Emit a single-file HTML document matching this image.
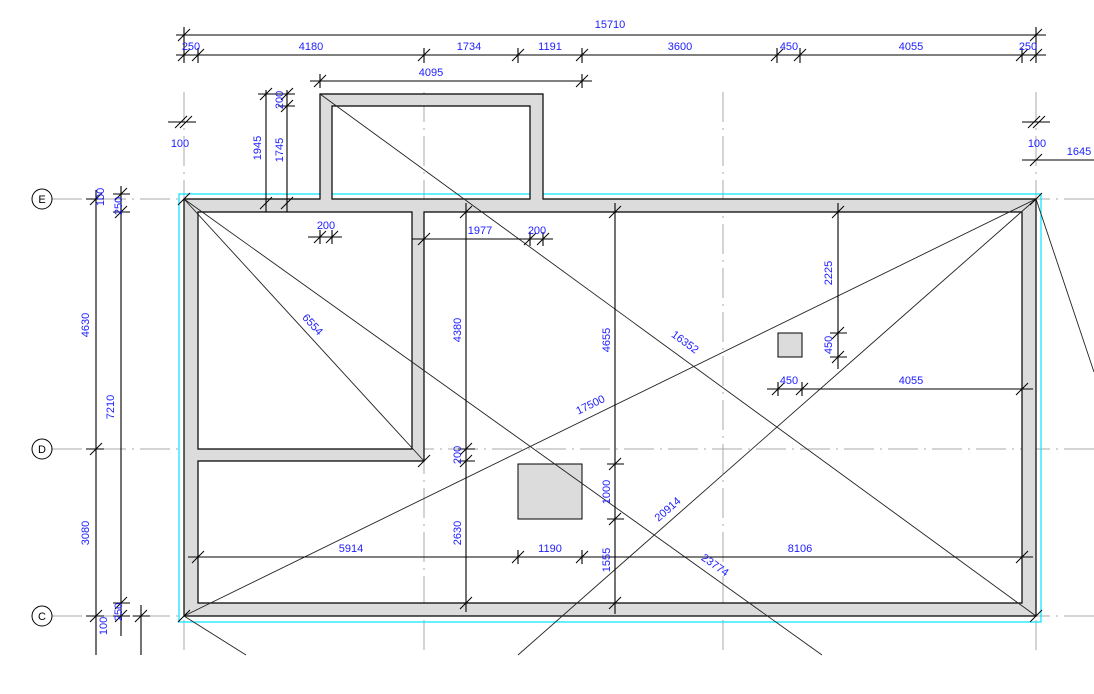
<!DOCTYPE html>
<html><head><meta charset="utf-8"><style>
html,body{margin:0;padding:0;background:#fff}
svg{display:block}
text{font-family:"Liberation Sans",sans-serif;font-size:11px;fill:#2020ff}
</style></head><body>
<svg width="1094" height="694" viewBox="0 0 1094 694" xmlns="http://www.w3.org/2000/svg">
<defs>
<g id="t"><line x1="-6" y1="6" x2="6" y2="-6" stroke="#000" stroke-width="1"/></g>
</defs>
<!-- grid lines -->
<g stroke="#aaa" stroke-width="1" stroke-dasharray="30,6,2,6" fill="none">
<line x1="52" y1="199" x2="1094" y2="199"/>
<line x1="52" y1="449" x2="1094" y2="449"/>
<line x1="52" y1="616" x2="1094" y2="616"/>
<line x1="184" y1="92" x2="184" y2="655"/>
<line x1="424" y1="92" x2="424" y2="655"/>
<line x1="723" y1="92" x2="723" y2="655"/>
<line x1="1036" y1="92" x2="1036" y2="655"/>
</g>
<!-- grid circles -->
<g fill="#fff" stroke="#000">
<circle cx="42" cy="199" r="10"/><circle cx="42" cy="449" r="10"/><circle cx="42" cy="616" r="10"/>
</g>
<g style="font-size:11px;fill:#000" text-anchor="middle">
<text x="42" y="203" style="fill:#000">E</text><text x="42" y="453" style="fill:#000">D</text><text x="42" y="620" style="fill:#000">C</text>
</g>
<!-- cyan -->
<rect x="179" y="194" width="862" height="428" fill="none" stroke="#00e5ff" stroke-width="1.2"/>
<!-- walls -->
<path d="M184,199 H320 V94 H543 V199 H1036 V616 H184 Z M198,212 V449 H412 V212 Z M198,461 V603 H1022 V212 H424 V461 Z M332,106 V199 H530 V106 Z" fill="#dcdcdc" fill-rule="evenodd" stroke="#000" stroke-width="1.2"/>
<rect x="778" y="333" width="24" height="24" fill="#dcdcdc" stroke="#000"/>
<rect x="518" y="464" width="64" height="55" fill="#dcdcdc" stroke="#000"/>
<!-- diagonals -->
<g stroke="#222" stroke-width="0.9">
<line x1="184" y1="199" x2="424" y2="461"/>
<line x1="184" y1="199" x2="822" y2="655"/>
<line x1="320" y1="94" x2="1036" y2="616"/>
<line x1="184" y1="616" x2="1036" y2="199"/>
<line x1="518" y1="655" x2="1036" y2="199"/>
<line x1="1036" y1="199" x2="1094" y2="372"/>
<line x1="184" y1="616" x2="246" y2="655"/>
</g>
<!-- dimension lines -->
<g stroke="#000" stroke-width="1.1" fill="none">
<line x1="176" y1="35" x2="1046" y2="35"/>
<line x1="176" y1="55" x2="1046" y2="55"/>
<line x1="184" y1="27" x2="184" y2="63"/><line x1="1036" y1="27" x2="1036" y2="63"/>
<line x1="198" y1="48" x2="198" y2="63"/><line x1="424" y1="48" x2="424" y2="63"/><line x1="518" y1="48" x2="518" y2="63"/><line x1="582" y1="48" x2="582" y2="63"/><line x1="777" y1="48" x2="777" y2="63"/><line x1="800" y1="48" x2="800" y2="63"/><line x1="1022" y1="48" x2="1022" y2="63"/>
<line x1="310" y1="81" x2="592" y2="81"/><line x1="320" y1="74" x2="320" y2="88"/><line x1="582" y1="74" x2="582" y2="88"/>
<line x1="266" y1="90" x2="266" y2="212"/><line x1="287" y1="90" x2="287" y2="212"/>
<line x1="258" y1="94" x2="295" y2="94"/><line x1="278" y1="106" x2="295" y2="106"/>
<line x1="168" y1="122" x2="196" y2="122"/><line x1="1022" y1="122" x2="1050" y2="122"/><line x1="1022" y1="160" x2="1094" y2="160"/>
<line x1="96" y1="190" x2="96" y2="655"/><line x1="121" y1="186" x2="121" y2="636"/><line x1="141" y1="605" x2="141" y2="655"/>
<line x1="86" y1="199" x2="104" y2="199"/><line x1="86" y1="449" x2="104" y2="449"/><line x1="86" y1="616" x2="104" y2="616"/>
<line x1="113" y1="194" x2="130" y2="194"/><line x1="113" y1="212" x2="130" y2="212"/><line x1="113" y1="603" x2="130" y2="603"/><line x1="113" y1="616" x2="130" y2="616"/><line x1="133" y1="616" x2="150" y2="616"/>
<line x1="308" y1="237" x2="342" y2="237"/><line x1="320" y1="230" x2="320" y2="244"/><line x1="332" y1="230" x2="332" y2="244"/>
<line x1="412" y1="239" x2="553" y2="239"/><line x1="530" y1="232" x2="530" y2="246"/><line x1="543" y1="232" x2="543" y2="246"/>
<line x1="466" y1="203" x2="466" y2="612"/><line x1="458" y1="449" x2="475" y2="449"/><line x1="458" y1="461" x2="475" y2="461"/>
<line x1="615" y1="203" x2="615" y2="614"/><line x1="607" y1="464" x2="624" y2="464"/><line x1="607" y1="519" x2="624" y2="519"/>
<line x1="838" y1="203" x2="838" y2="369"/><line x1="830" y1="333" x2="847" y2="333"/><line x1="830" y1="357" x2="847" y2="357"/>
<line x1="767" y1="389" x2="1033" y2="389"/><line x1="778" y1="382" x2="778" y2="396"/><line x1="802" y1="382" x2="802" y2="396"/>
<line x1="188" y1="557" x2="1033" y2="557"/><line x1="518" y1="550" x2="518" y2="564"/><line x1="582" y1="550" x2="582" y2="564"/>
</g>
<!-- ticks -->
<g>
<use href="#t" x="184" y="35"/><use href="#t" x="1036" y="35"/>
<use href="#t" x="184" y="55"/><use href="#t" x="198" y="55"/><use href="#t" x="424" y="55"/><use href="#t" x="518" y="55"/><use href="#t" x="582" y="55"/><use href="#t" x="777" y="55"/><use href="#t" x="800" y="55"/><use href="#t" x="1022" y="55"/><use href="#t" x="1036" y="55"/>
<use href="#t" x="320" y="81"/><use href="#t" x="582" y="81"/>
<use href="#t" x="266" y="94"/><use href="#t" x="287" y="94"/><use href="#t" x="287" y="106"/><use href="#t" x="266" y="203"/><use href="#t" x="287" y="203"/>
<use href="#t" x="181" y="122"/><use href="#t" x="186" y="122"/><use href="#t" x="1034" y="122"/><use href="#t" x="1039" y="122"/><use href="#t" x="1036" y="160"/>
<use href="#t" x="96" y="199"/><use href="#t" x="96" y="449"/><use href="#t" x="96" y="616"/>
<use href="#t" x="121" y="194"/><use href="#t" x="121" y="212"/><use href="#t" x="121" y="603"/><use href="#t" x="121" y="616"/><use href="#t" x="141" y="616"/>
<use href="#t" x="320" y="237"/><use href="#t" x="332" y="237"/><use href="#t" x="424" y="239"/><use href="#t" x="530" y="239"/><use href="#t" x="543" y="239"/>
<use href="#t" x="466" y="212"/><use href="#t" x="466" y="449"/><use href="#t" x="466" y="461"/><use href="#t" x="466" y="603"/>
<use href="#t" x="615" y="212"/><use href="#t" x="615" y="464"/><use href="#t" x="615" y="519"/><use href="#t" x="615" y="603"/>
<use href="#t" x="838" y="212"/><use href="#t" x="838" y="333"/><use href="#t" x="838" y="357"/>
<use href="#t" x="778" y="389"/><use href="#t" x="802" y="389"/><use href="#t" x="1022" y="389"/>
<use href="#t" x="198" y="557"/><use href="#t" x="518" y="557"/><use href="#t" x="582" y="557"/><use href="#t" x="1022" y="557"/>
<use href="#t" x="184" y="199"/><use href="#t" x="1036" y="199"/><use href="#t" x="184" y="616"/><use href="#t" x="1036" y="616"/><use href="#t" x="424" y="461"/>
</g>
<!-- labels -->
<g text-anchor="middle">
<text x="610" y="28">15710</text>
<text x="191" y="50">250</text><text x="311" y="50">4180</text><text x="469" y="50">1734</text><text x="550" y="50">1191</text><text x="680" y="50">3600</text><text x="789" y="50">450</text><text x="911" y="50">4055</text><text x="1028" y="50">250</text>
<text x="431" y="76">4095</text>
<text x="180" y="147">100</text><text x="1037" y="147">100</text><text x="1079" y="155">1645</text>
<text x="326" y="229">200</text><text x="480" y="234">1977</text><text x="537" y="234">200</text>
<text x="789" y="384">450</text><text x="911" y="384">4055</text>
<text x="351" y="552">5914</text><text x="550" y="552">1190</text><text x="800" y="552">8106</text>
<text transform="translate(261,148) rotate(-90)">1945</text>
<text transform="translate(283,150) rotate(-90)">1745</text>
<text transform="translate(283,100) rotate(-90)">200</text>
<text transform="translate(89,325) rotate(-90)">4630</text>
<text transform="translate(114,407) rotate(-90)">7210</text>
<text transform="translate(89,533) rotate(-90)">3080</text>
<text transform="translate(104,197) rotate(-90)">100</text>
<text transform="translate(122,206) rotate(-90)">250</text>
<text transform="translate(122,612) rotate(-90)">250</text>
<text transform="translate(107,626) rotate(-90)">100</text>
<text transform="translate(461,330) rotate(-90)">4380</text>
<text transform="translate(461,455) rotate(-90)">200</text>
<text transform="translate(461,533) rotate(-90)">2630</text>
<text transform="translate(610,340) rotate(-90)">4655</text>
<text transform="translate(610,492) rotate(-90)">1000</text>
<text transform="translate(610,560) rotate(-90)">1555</text>
<text transform="translate(832,273) rotate(-90)">2225</text>
<text transform="translate(832,345) rotate(-90)">450</text>
<text transform="translate(310,327) rotate(47)">6554</text>
<text transform="translate(683,345) rotate(36)">16352</text>
<text transform="translate(592,408) rotate(-26)">17500</text>
<text transform="translate(670,512) rotate(-41)">20914</text>
<text transform="translate(713,568) rotate(35)">23774</text>
</g>
</svg>
</body></html>
